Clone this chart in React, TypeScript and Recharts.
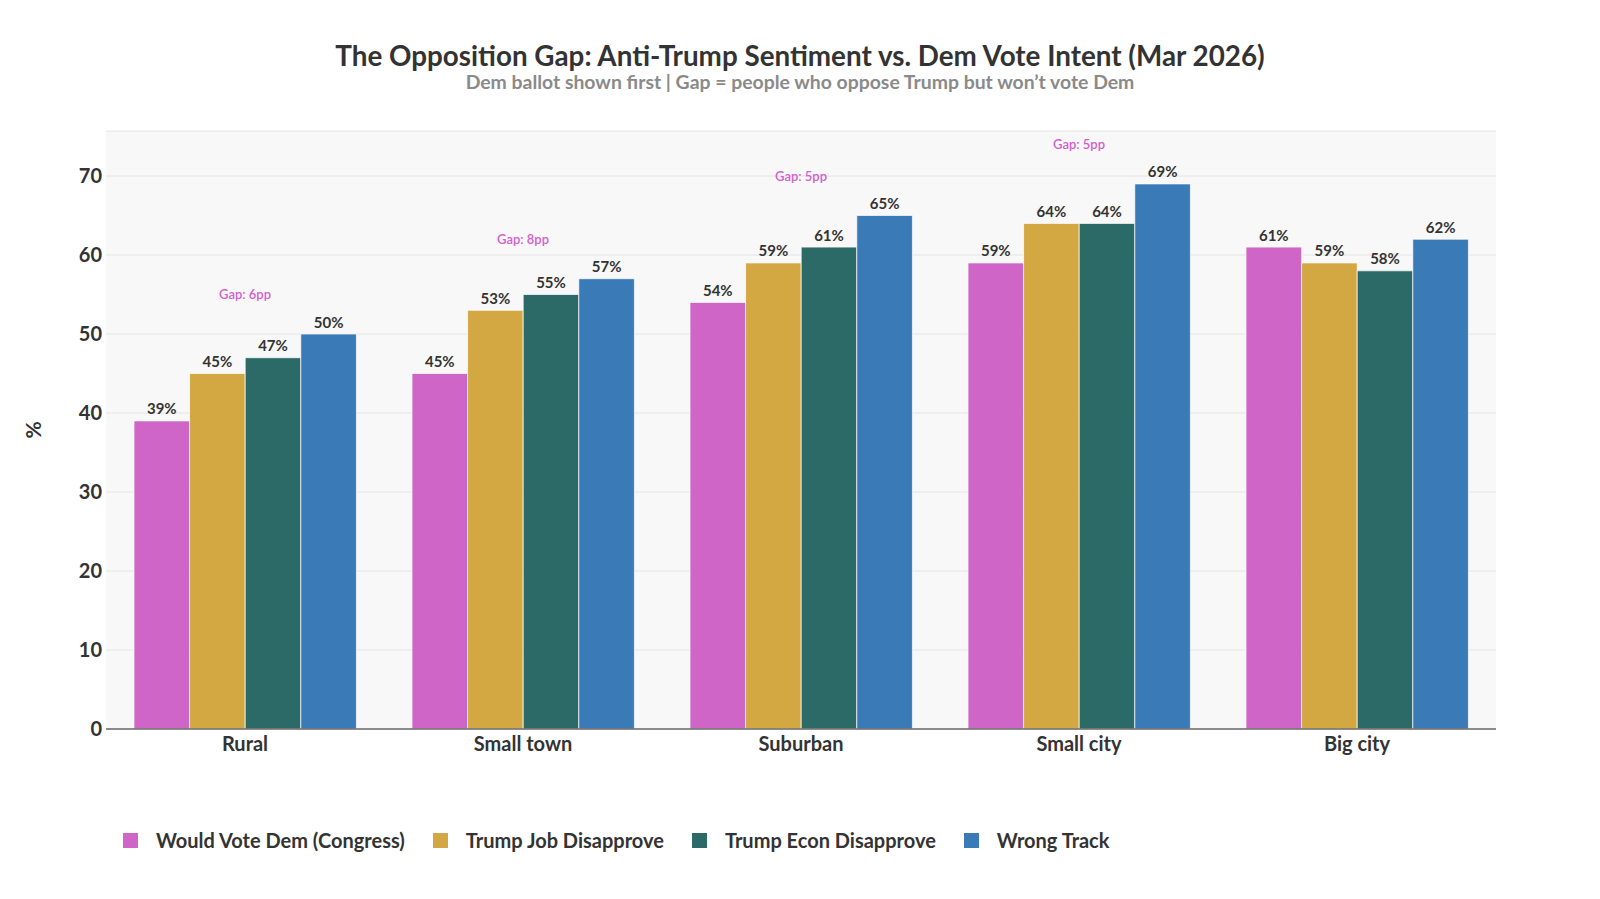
import React from 'react';
import { ComposedChart, Bar, Line, LabelList, CartesianGrid, XAxis, YAxis } from 'recharts';

const categories = ['Rural', 'Small town', 'Suburban', 'Small city', 'Big city'];
const voteDem = [39, 45, 54, 59, 61];
const jobDisapprove = [45, 53, 59, 64, 59];
const econDisapprove = [47, 55, 61, 64, 58];
const wrongTrack = [50, 57, 65, 69, 62];
const yTicks = [0, 10, 20, 30, 40, 50, 60, 70];

const series = [
  { key: 'dem', name: 'Would Vote Dem (Congress)', color: '#CF66C7' },
  { key: 'job', name: 'Trump Job Disapprove', color: '#D3A843' },
  { key: 'econ', name: 'Trump Econ Disapprove', color: '#2B6A66' },
  { key: 'wrong', name: 'Wrong Track', color: '#3A7AB7' },
];

const font = 'Lato, "Noto Sans", sans-serif';

// gap = job disapprove minus dem vote; shown only when positive, 5 points above the tallest bar
const data = categories.map((cat, i) => {
  const gap = jobDisapprove[i] - voteDem[i];
  const top = Math.max(voteDem[i], jobDisapprove[i], econDisapprove[i], wrongTrack[i]);
  return {
    cat,
    dem: voteDem[i],
    job: jobDisapprove[i],
    econ: econDisapprove[i],
    wrong: wrongTrack[i],
    gap,
    gapY: gap > 0 ? top + 5 : null,
  };
});

const GapLabel = (props: any) => {
  const { x, y, index } = props;
  const row = data[index];
  if (!row || row.gapY == null) return null;
  return (
    <text x={x} y={y + 1.5} textAnchor="middle" dominantBaseline="middle" fill="#D35FCF" fontSize={13} fontFamily={font} fontWeight={600}>
      {`Gap: ${row.gap}pp`}
    </text>
  );
};

export default function App() {
  return (
    <div style={{ position: 'relative', width: 1584, height: 880, overflow: 'hidden', fontFamily: font, background: '#fff' }}>
      <div style={{ position: 'absolute', top: 31, left: 0, width: 1584, textAlign: 'center', fontSize: 27.8, fontWeight: 700, color: '#333' }}>
        The Opposition Gap: Anti-Trump Sentiment vs. Dem Vote Intent (Mar 2026)
      </div>
      <div style={{ position: 'absolute', top: 62, left: 0, width: 1584, textAlign: 'center', fontSize: 19.4, fontWeight: 700, color: '#8a8a8a' }}>
        Dem ballot shown first | Gap = people who oppose Trump but won’t vote Dem
      </div>
      <ComposedChart
        width={1584}
        height={880}
        data={data}
        margin={{ top: 123, right: 96, bottom: 129, left: 38 }}
        barSize={55.6}
        barGap={0}
      >
        <CartesianGrid vertical={false} stroke="#e4e4e4" fill="#f8f8f8" />
        <XAxis
          dataKey="cat"
          height={30}
          tickLine={false}
          axisLine={{ stroke: '#6a6a6a', strokeWidth: 1.5 }}
          tick={{ fill: '#333', fontSize: 20, fontWeight: 700, fontFamily: font }}
          tickSize={0}
          tickMargin={8}
        />
        <YAxis
          width={60}
          domain={[0, 75.7]}
          ticks={yTicks}
          allowDataOverflow
          tickLine={false}
          axisLine={false}
          tickSize={0}
          tickMargin={4}
          tick={{ fill: '#333', fontSize: 20, fontWeight: 700, fontFamily: font }}
          label={({ viewBox }: any) => (
            <text
              x={28}
              y={viewBox.y + viewBox.height / 2}
              textAnchor="middle"
              dominantBaseline="middle"
              transform={`rotate(-90 28 ${viewBox.y + viewBox.height / 2})`}
              fill="#333"
              fontSize={21}
              fontWeight={700}
              fontFamily={font}
            >
              %
            </text>
          )}
        />
        {series.map((s) => (
          <Bar key={s.key} dataKey={s.key} name={s.name} fill={s.color} stroke="rgba(255,255,255,0.7)" strokeWidth={1} isAnimationActive={false}>
            <LabelList
              dataKey={s.key}
              position="top"
              offset={6.5}
              formatter={(v: any) => `${v}%`}
              style={{ fill: '#333', fontSize: 15, fontWeight: 700, fontFamily: font }}
            />
          </Bar>
        ))}
        <Line dataKey="gapY" stroke="none" dot={false} activeDot={false} legendType="none" isAnimationActive={false}>
          <LabelList dataKey="gapY" content={GapLabel} />
        </Line>
      </ComposedChart>
      <div style={{ position: 'absolute', top: 820, left: 115, display: 'flex', alignItems: 'center', fontSize: 20, fontWeight: 700, color: '#333' }}>
        {series.map((s) => (
          <div key={s.key} style={{ display: 'flex', alignItems: 'center', marginRight: 28 }}>
            <span style={{ display: 'inline-block', width: 15, height: 15, background: s.color, marginRight: 18 }} />
            <span>{s.name}</span>
          </div>
        ))}
      </div>
    </div>
  );
}
